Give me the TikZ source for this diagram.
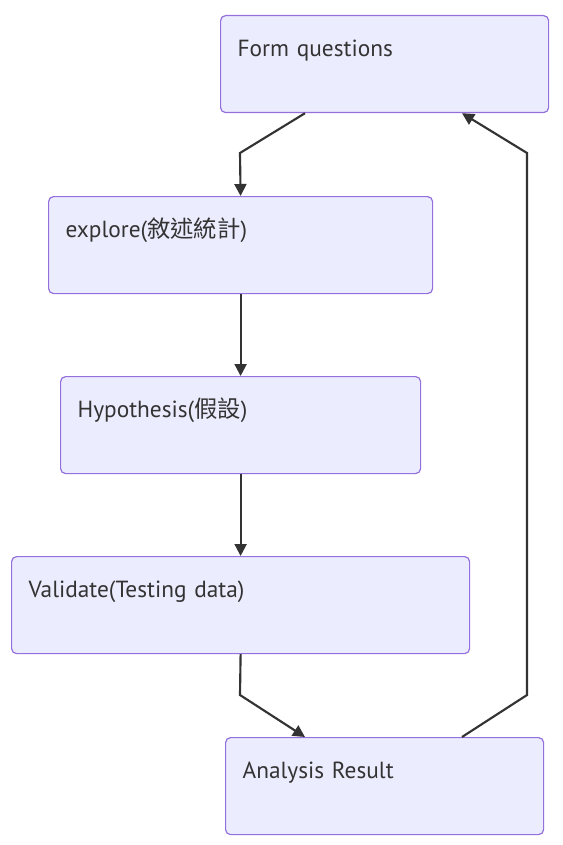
\documentclass[tikz,border=0pt]{standalone}
\usepackage{fontspec}
\setmainfont{PT Sans}
\newfontfamily\cjk{Noto Sans CJK TC}
\usetikzlibrary{positioning, arrows.meta}
\definecolor{boxfill}{HTML}{ECECFF}
\definecolor{boxline}{HTML}{9370DB}
\definecolor{ink}{HTML}{333333}

\begin{document}
\begin{tikzpicture}[
    x=0.75pt, y=-0.75pt,
    stepbox/.style={draw=boxline, fill=boxfill, line width=0.9pt, rounded corners=3.75pt,
        anchor=north west, inner xsep=12.75pt, inner ysep=0pt, text height=30.75pt,
        text depth=42pt, align=left, text=ink, font=\fontsize{17.5}{20}\selectfont},
    flow/.style={draw=ink, line width=1.6pt, -{Triangle[length=9pt, width=9pt]}}
]
\useasboundingbox (0,0) rectangle (563,845);
\node[stepbox, text width=220.5pt] (form) at (220,15) {Form questions};
\node[stepbox, text width=262.5pt] (explore) at (48,196) {explore({\cjk 敘述統計})};
\node[stepbox, text width=244.5pt] (hypo) at (60,376) {Hypothesis({\cjk 假設})};
\node[stepbox, text width=318pt] (valid) at (11,556) {Validate(Testing data)};
\node[stepbox, text width=213pt] (result) at (225,737) {Analysis Result};

\draw[flow] ([xshift=63.75pt]form.south west) -- (240,153) -- (explore.north);
\draw[flow] (explore.south) -- (hypo.north);
\draw[flow] (hypo.south) -- (valid.north);
\draw[flow] (valid.south) -- (240,695) -- ([xshift=60pt]result.north west);
\draw[flow] ([xshift=177.75pt]result.north west) -- (527,695) -- (527,153)
    -- ([xshift=181.5pt]form.south west);
\end{tikzpicture}
\end{document}
